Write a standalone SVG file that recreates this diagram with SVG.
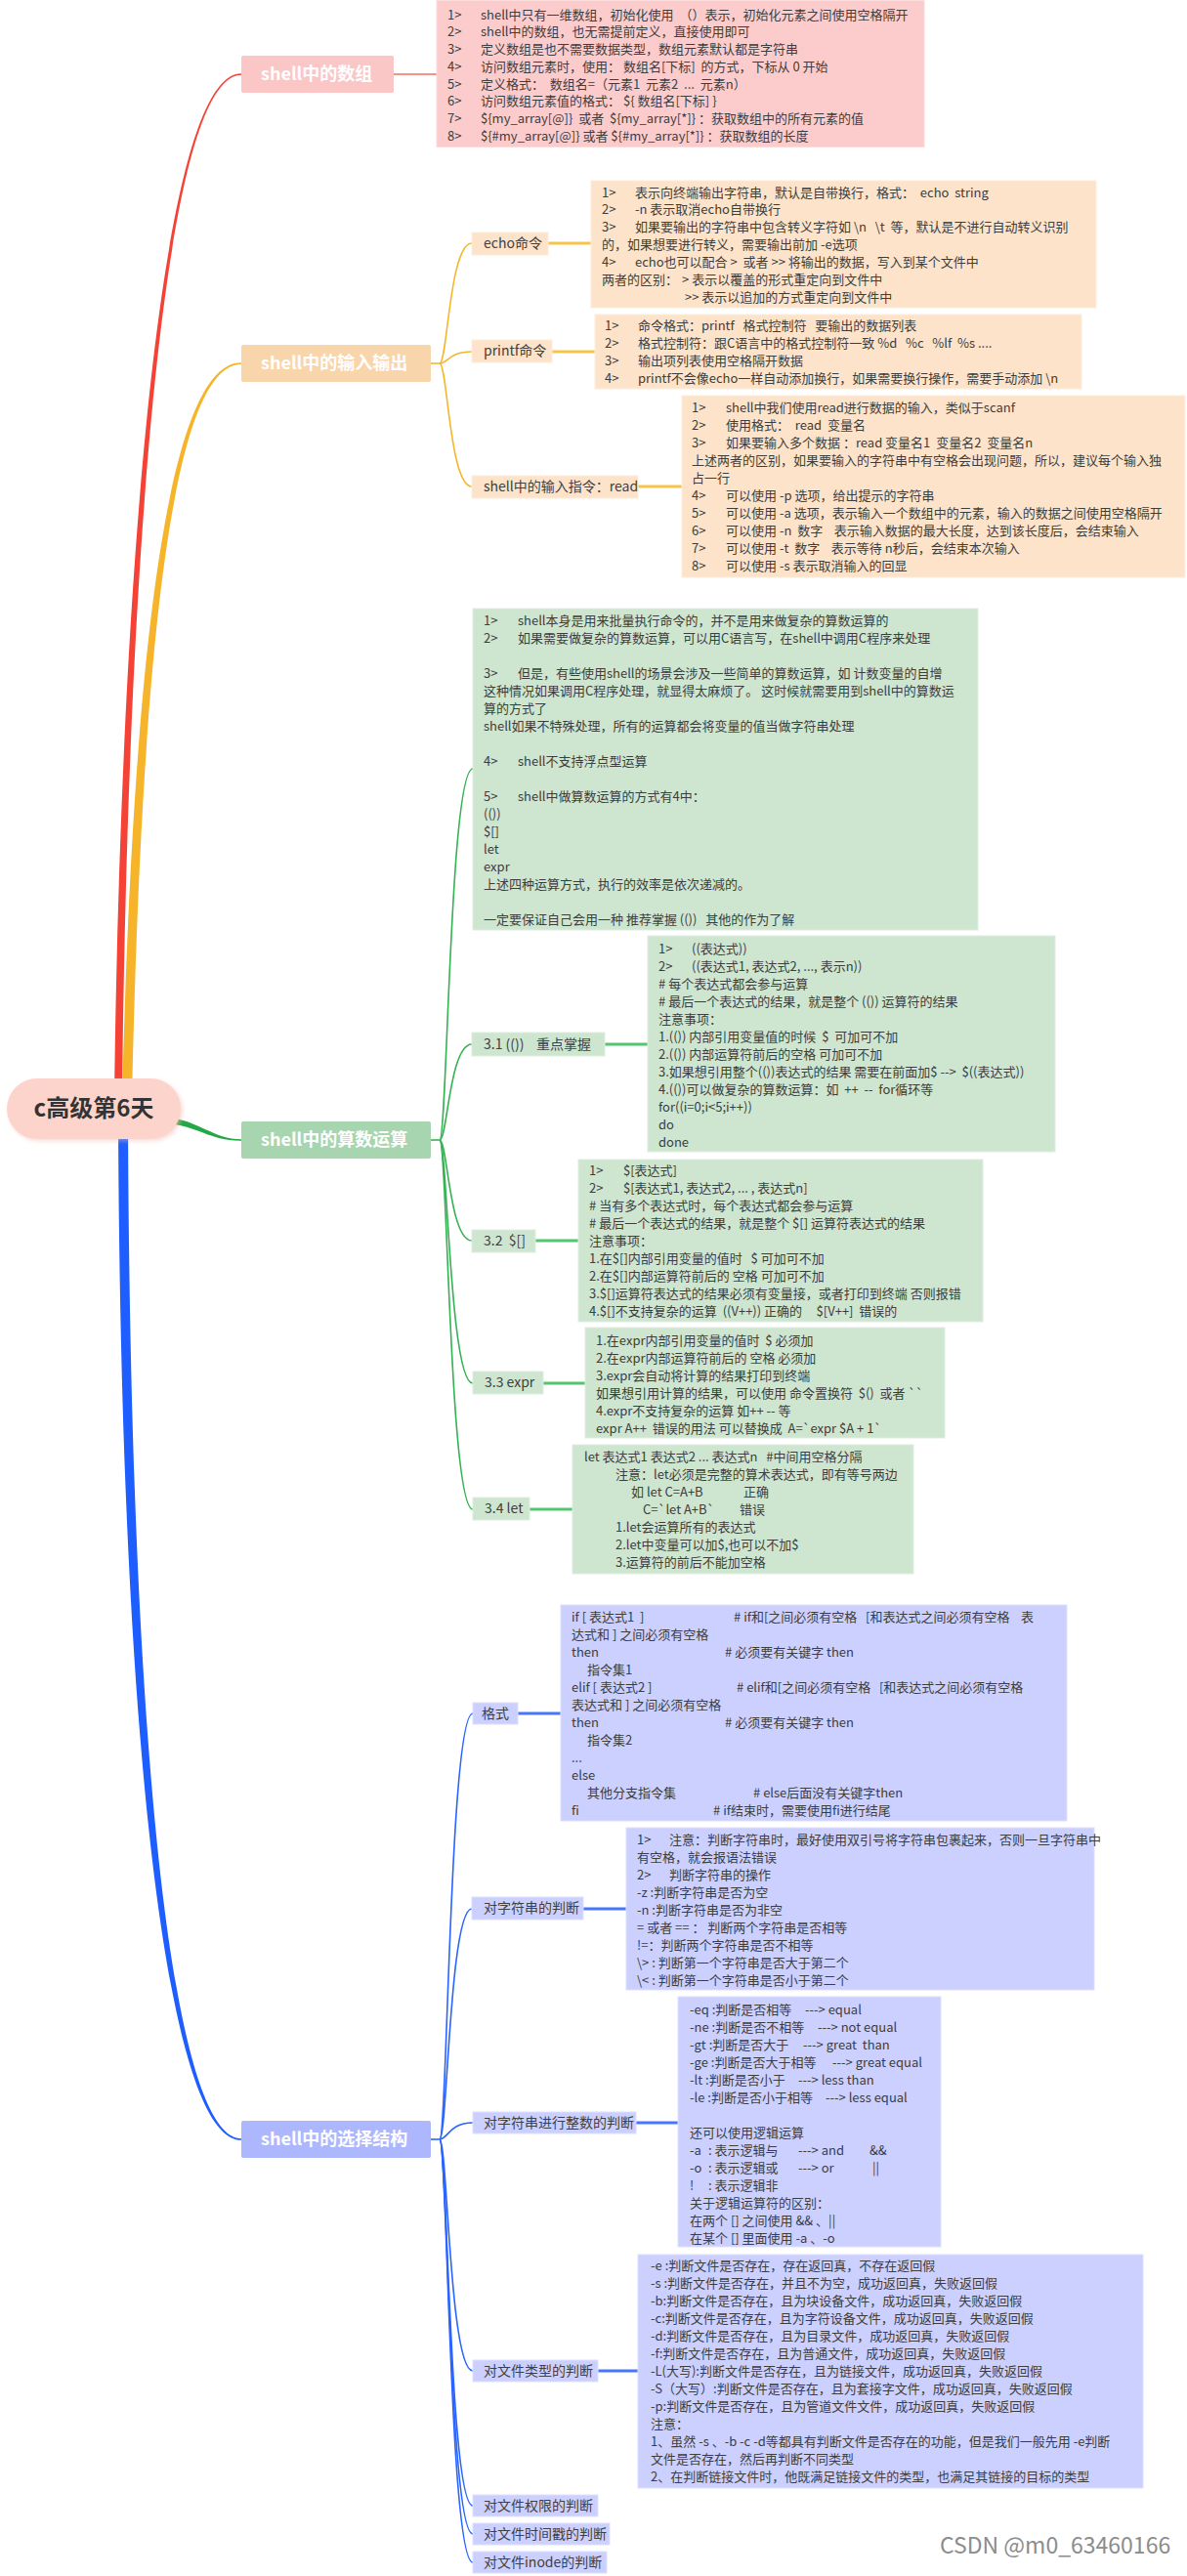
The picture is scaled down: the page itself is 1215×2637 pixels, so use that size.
<svg xmlns="http://www.w3.org/2000/svg" width="1215" height="2637" viewBox="0 0 1215 2637">
<style>
text{font-family:"Noto Sans CJK SC","Microsoft YaHei","Liberation Sans",sans-serif;white-space:pre}
.t{font-size:13px;fill:#3d3d3d}
.lb{font-size:14px;fill:#404040}
.mn{font-size:18px;font-weight:bold;fill:#ffffff}
.pk{fill:#FCCCCC;stroke:#FDDCDC;stroke-width:1}
.or{fill:#FCE3C9;stroke:#FDEDDC;stroke-width:1}
.gr{fill:#CEE5D0;stroke:#DDEEDF;stroke-width:1}
.bl{fill:#CBD0FE;stroke:#DDE0FF;stroke-width:1}
.fo{fill:none;stroke:#F5B62E;stroke-width:1.6}
.fg{fill:none;stroke:#35B254;stroke-width:1.6}
.fb{fill:none;stroke:#2B64FF;stroke-width:1.6}
.co{fill:none;stroke:#F8C448;stroke-width:3}
.cg{fill:none;stroke:#55C46E;stroke-width:3}
.cb{fill:none;stroke:#4676FF;stroke-width:3}
</style>
<defs>
<filter id="sh" x="-20%" y="-40%" width="140%" height="180%"><feGaussianBlur stdDeviation="2"/></filter>
</defs>
<rect width="1215" height="2637" fill="#ffffff"/>

<g id="connectors">
<path d="M 117 1125 C 122.5 650, 159 74.5, 247 75.2 L 247 76.8 C 161 77.5, 129.5 650, 125 1125 Z" fill="#F44336"/>
<path d="M 125 1125 C 135.5 700, 168 370.5, 247 371.2 L 247 372.8 C 172 373.5, 144.5 700, 135 1125 Z" fill="#F6B42B"/>
<path d="M 168 1143 C 205 1147, 218 1166.3, 247 1166.3 L 247 1167.7 C 214 1168, 203 1152, 168 1150 Z" fill="#22A844"/>
<path d="M 121 1140 C 123 1800, 173 2191.5, 247 2190.8 L 247 2189.2 C 177 2188.5, 133 1800, 131 1140 Z" fill="#1E5EFF"/>
<line x1="403" y1="76" x2="447" y2="76" stroke="#EE6E62" stroke-width="1.3"/>
<path class="fo" d="M 441 372 L 450 372"/>
<path class="fo" d="M 450 372 C 458 372, 460 249, 483 249"/>
<path class="fo" d="M 450 372 C 458 372, 460 360, 483 360"/>
<path class="fo" d="M 450 372 C 458 372, 460 498, 483 498"/>
<path class="co" d="M 561 249 L 605 249"/>
<path class="co" d="M 565 360 L 609 360"/>
<path class="co" d="M 653 498 L 698 498"/>
<path class="fg" d="M 441 1167 L 450 1167"/>
<path class="fg" d="M 450 1167 C 458 1167, 460 787, 484 787"/>
<path class="fg" d="M 450 1167 C 458 1167, 460 1069, 483 1069"/>
<path class="fg" d="M 450 1167 C 458 1167, 460 1270, 483 1270"/>
<path class="fg" d="M 450 1167 C 458 1167, 460 1416, 484 1416"/>
<path class="fg" d="M 450 1167 C 458 1167, 460 1545, 484 1545"/>
<path class="cg" d="M 619 1069 L 663 1069"/>
<path class="cg" d="M 548 1270 L 592 1270"/>
<path class="cg" d="M 556 1416 L 599 1416"/>
<path class="cg" d="M 542 1545 L 586 1545"/>
<path class="fb" d="M 441 2190 L 450 2190"/>
<path class="fb" d="M 450 2190 C 458 2190, 460 1754, 484 1754"/>
<path class="fb" d="M 450 2190 C 458 2190, 460 1954, 483 1954"/>
<path class="fb" d="M 450 2190 C 458 2190, 460 2173, 484 2173"/>
<path class="fb" d="M 450 2190 C 458 2190, 460 2427, 484 2427"/>
<path class="fb" d="M 450 2190 C 458 2190, 460 2565, 484 2565"/>
<path class="fb" d="M 450 2190 C 458 2190, 460 2594, 484 2594"/>
<path class="fb" d="M 450 2190 C 458 2190, 460 2623, 484 2623"/>
<path class="cb" d="M 530 1754 L 574 1754"/>
<path class="cb" d="M 597 1954 L 641 1954"/>
<path class="cb" d="M 651 2173 L 694 2173"/>
<path class="cb" d="M 612 2427 L 653 2427"/>
</g>

<g id="root">
<rect x="9" y="1106" width="178" height="62" rx="31" fill="#F4B8AE" opacity="0.5" filter="url(#sh)"/>
<rect x="7" y="1104" width="178" height="62" rx="31" fill="#FDD4CC"/>
<text x="96" y="1143" text-anchor="middle" style="font-size:24px;font-weight:bold;fill:#333333">c高级第6天</text>
</g>

<g id="n-array">
<rect x="247" y="57" width="156" height="38" rx="2" fill="#FAC6C6"/>
<text class="mn" x="267" y="82">shell中的数组</text>
</g>
<g id="n-array-box">
<rect class="pk" x="447" y="0.5" width="499" height="150"/>
<text class="t" x="458" y="19.5">1&gt;<tspan x="492">shell中只有一维数组，初始化使用  （）表示，初始化元素之间使用空格隔开</tspan></text>
<text class="t" x="458" y="37.3">2&gt;<tspan x="492">shell中的数组，也无需提前定义，直接使用即可</tspan></text>
<text class="t" x="458" y="55">3&gt;<tspan x="492">定义数组是也不需要数据类型，数组元素默认都是字符串</tspan></text>
<text class="t" x="458" y="72.8">4&gt;<tspan x="492">访问数组元素时，使用： 数组名[下标]  的方式，下标从 0 开始</tspan></text>
<text class="t" x="458" y="90.5">5&gt;<tspan x="492">定义格式：  数组名=（元素1  元素2  ...  元素n）</tspan></text>
<text class="t" x="458" y="108.3">6&gt;<tspan x="492">访问数组元素值的格式： ${ 数组名[下标] }</tspan></text>
<text class="t" x="458" y="126">7&gt;<tspan x="492">${my_array[@]}  或者  ${my_array[*]} ：获取数组中的所有元素的值</tspan></text>
<text class="t" x="458" y="143.8">8&gt;<tspan x="492">${#my_array[@]} 或者 ${#my_array[*]} ：获取数组的长度</tspan></text>
</g>

<g id="n-io">
<rect x="247" y="353" width="194" height="38" rx="2" fill="#F9D5AB"/>
<text class="mn" x="267" y="378">shell中的输入输出</text>
</g>
<g id="n-echo">
<rect class="or" x="483" y="238" width="78" height="23"/>
<text class="lb" x="495" y="254">echo命令</text>
</g>
<g id="n-echo-box">
<rect class="or" x="605" y="185" width="517" height="130"/>
<text class="t" x="616" y="201.5">1&gt;<tspan x="650">表示向终端输出字符串，默认是自带换行，格式：  echo  string</tspan></text>
<text class="t" x="616" y="219.4">2&gt;<tspan x="650">-n 表示取消echo自带换行</tspan></text>
<text class="t" x="616" y="237.3">3&gt;<tspan x="650">如果要输出的字符串中包含转义字符如 \n   \t  等，默认是不进行自动转义识别</tspan></text>
<text class="t" x="616" y="255.2">的，如果想要进行转义，需要输出前加 -e选项</text>
<text class="t" x="616" y="273.1">4&gt;<tspan x="650">echo也可以配合 &gt;  或者 &gt;&gt; 将输出的数据，写入到某个文件中</tspan></text>
<text class="t" x="616" y="291">两者的区别：<tspan x="698">&gt; 表示以覆盖的形式重定向到文件中</tspan></text>
<text class="t" x="701" y="308.9">&gt;&gt; 表示以追加的方式重定向到文件中</text>
</g>
<g id="n-printf">
<rect class="or" x="483" y="348" width="82" height="23"/>
<text class="lb" x="495" y="364">printf命令</text>
</g>
<g id="n-printf-box">
<rect class="or" x="609" y="322" width="498" height="76"/>
<text class="t" x="619" y="337.5">1&gt;<tspan x="653">命令格式：printf   格式控制符   要输出的数据列表</tspan></text>
<text class="t" x="619" y="355.5">2&gt;<tspan x="653">格式控制符：跟C语言中的格式控制符一致 %d   %c   %lf  %s ....</tspan></text>
<text class="t" x="619" y="373.5">3&gt;<tspan x="653">输出项列表使用空格隔开数据</tspan></text>
<text class="t" x="619" y="391.5">4&gt;<tspan x="653">printf不会像echo一样自动添加换行，如果需要换行操作，需要手动添加 \n</tspan></text>
</g>
<g id="n-read">
<rect class="or" x="483" y="487" width="170" height="23"/>
<text class="lb" x="495" y="503">shell中的输入指令：read</text>
</g>
<g id="n-read-box">
<rect class="or" x="698" y="405" width="515" height="186"/>
<text class="t" x="708" y="421.5">1&gt;<tspan x="743">shell中我们使用read进行数据的输入，类似于scanf</tspan></text>
<text class="t" x="708" y="439.5">2&gt;<tspan x="743">使用格式：  read  变量名</tspan></text>
<text class="t" x="708" y="457.5">3&gt;<tspan x="743">如果要输入多个数据 ：read 变量名1  变量名2  变量名n</tspan></text>
<text class="t" x="708" y="475.5">上述两者的区别，如果要输入的字符串中有空格会出现问题，所以，建议每个输入独</text>
<text class="t" x="708" y="493.5">占一行</text>
<text class="t" x="708" y="511.5">4&gt;<tspan x="743">可以使用 -p 选项，给出提示的字符串</tspan></text>
<text class="t" x="708" y="529.5">5&gt;<tspan x="743">可以使用 -a 选项，表示输入一个数组中的元素，输入的数据之间使用空格隔开</tspan></text>
<text class="t" x="708" y="547.5">6&gt;<tspan x="743">可以使用 -n  数字    表示输入数据的最大长度，达到该长度后，会结束输入</tspan></text>
<text class="t" x="708" y="565.5">7&gt;<tspan x="743">可以使用 -t  数字    表示等待 n秒后，会结束本次输入</tspan></text>
<text class="t" x="708" y="583.5">8&gt;<tspan x="743">可以使用 -s 表示取消输入的回显</tspan></text>
</g>

<g id="n-arith">
<rect x="247" y="1148" width="194" height="38" rx="2" fill="#A7D5AF"/>
<text class="mn" x="267" y="1173">shell中的算数运算</text>
</g>
<g id="n-arith-box">
<rect class="gr" x="484" y="623" width="517" height="329"/>
<text class="t" x="495" y="639.5">1&gt;<tspan x="530">shell本身是用来批量执行命令的，并不是用来做复杂的算数运算的</tspan></text>
<text class="t" x="495" y="657.5">2&gt;<tspan x="530">如果需要做复杂的算数运算，可以用C语言写，在shell中调用C程序来处理</tspan></text>
<text class="t" x="495" y="693.5">3&gt;<tspan x="530">但是，有些使用shell的场景会涉及一些简单的算数运算，如 计数变量的自增</tspan></text>
<text class="t" x="495" y="711.5">这种情况如果调用C程序处理，就显得太麻烦了。 这时候就需要用到shell中的算数运</text>
<text class="t" x="495" y="729.5">算的方式了</text>
<text class="t" x="495" y="747.5">shell如果不特殊处理，所有的运算都会将变量的值当做字符串处理</text>
<text class="t" x="495" y="783.5">4&gt;<tspan x="530">shell不支持浮点型运算</tspan></text>
<text class="t" x="495" y="819.5">5&gt;<tspan x="530">shell中做算数运算的方式有4中：</tspan></text>
<text class="t" x="495" y="837.5">(())</text>
<text class="t" x="495" y="855.5">$[]</text>
<text class="t" x="495" y="873.5">let</text>
<text class="t" x="495" y="891.5">expr</text>
<text class="t" x="495" y="909.5">上述四种运算方式，执行的效率是依次递减的。</text>
<text class="t" x="495" y="945.5">一定要保证自己会用一种 推荐掌握 (())   其他的作为了解</text>
</g>
<g id="n-31">
<rect class="gr" x="483" y="1057" width="136" height="24"/>
<text class="lb" x="495" y="1074">3.1 (())    重点掌握</text>
</g>
<g id="n-31-box">
<rect class="gr" x="663" y="958" width="417" height="221"/>
<text class="t" x="674" y="975.5">1&gt;<tspan x="708">((表达式))</tspan></text>
<text class="t" x="674" y="993.5">2&gt;<tspan x="708">((表达式1, 表达式2, ..., 表示n))</tspan></text>
<text class="t" x="674" y="1011.5"># 每个表达式都会参与运算</text>
<text class="t" x="674" y="1029.5"># 最后一个表达式的结果，就是整个 (()) 运算符的结果</text>
<text class="t" x="674" y="1047.5">注意事项：</text>
<text class="t" x="674" y="1065.5">1.(()) 内部引用变量值的时候  $  可加可不加</text>
<text class="t" x="674" y="1083.5">2.(()) 内部运算符前后的空格 可加可不加</text>
<text class="t" x="674" y="1101.5">3.如果想引用整个(())表达式的结果 需要在前面加$ --&gt;  $((表达式))</text>
<text class="t" x="674" y="1119.5">4.(())可以做复杂的算数运算：如  ++  --  for循环等</text>
<text class="t" x="674" y="1137.5">for((i=0;i&lt;5;i++))</text>
<text class="t" x="674" y="1155.5">do</text>
<text class="t" x="674" y="1173.5">done</text>
</g>
<g id="n-32">
<rect class="gr" x="483" y="1259" width="65" height="23"/>
<text class="lb" x="495" y="1275">3.2  $[]</text>
</g>
<g id="n-32-box">
<rect class="gr" x="592" y="1187" width="414" height="166"/>
<text class="t" x="603" y="1202.5">1&gt;<tspan x="638">$[表达式]</tspan></text>
<text class="t" x="603" y="1220.5">2&gt;<tspan x="638">$[表达式1, 表达式2, ... , 表达式n]</tspan></text>
<text class="t" x="603" y="1238.5"># 当有多个表达式时，每个表达式都会参与运算</text>
<text class="t" x="603" y="1256.5"># 最后一个表达式的结果，就是整个 $[] 运算符表达式的结果</text>
<text class="t" x="603" y="1274.5">注意事项：</text>
<text class="t" x="603" y="1292.5">1.在$[]内部引用变量的值时   $ 可加可不加</text>
<text class="t" x="603" y="1310.5">2.在$[]内部运算符前后的 空格 可加可不加</text>
<text class="t" x="603" y="1328.5">3.$[]运算符表达式的结果必须有变量接，或者打印到终端 否则报错</text>
<text class="t" x="603" y="1346.5">4.$[]不支持复杂的运算  ((V++)) 正确的     $[V++]  错误的</text>
</g>
<g id="n-33">
<rect class="gr" x="484" y="1404" width="72" height="23"/>
<text class="lb" x="496" y="1420">3.3 expr</text>
</g>
<g id="n-33-box">
<rect class="gr" x="599" y="1359" width="368" height="113"/>
<text class="t" x="610" y="1376.5">1.在expr内部引用变量的值时  $ 必须加</text>
<text class="t" x="610" y="1394.5">2.在expr内部运算符前后的 空格 必须加</text>
<text class="t" x="610" y="1412.5">3.expr会自动将计算的结果打印到终端</text>
<text class="t" x="610" y="1430.5">如果想引用计算的结果，可以使用 命令置换符  $()  或者 ``</text>
<text class="t" x="610" y="1448.5">4.expr不支持复杂的运算 如++ -- 等</text>
<text class="t" x="610" y="1466.5">expr A++  错误的用法 可以替换成  A=`expr $A + 1`</text>
</g>
<g id="n-34">
<rect class="gr" x="484" y="1533" width="58" height="23"/>
<text class="lb" x="496" y="1549">3.4 let</text>
</g>
<g id="n-34-box">
<rect class="gr" x="586" y="1479" width="349" height="132"/>
<text class="t" x="598" y="1495.5">let 表达式1 表达式2 ... 表达式n   #中间用空格分隔</text>
<text class="t" x="630" y="1513.5">注意：let必须是完整的算术表达式，即有等号两边</text>
<text class="t" x="646" y="1531.5">如 let C=A+B<tspan x="761">正确</tspan></text>
<text class="t" x="658" y="1549.5">C=`let A+B`<tspan x="757">错误</tspan></text>
<text class="t" x="630" y="1567.5">1.let会运算所有的表达式</text>
<text class="t" x="630" y="1585.5">2.let中变量可以加$,也可以不加$</text>
<text class="t" x="630" y="1603.5">3.运算符的前后不能加空格</text>
</g>

<g id="n-select">
<rect x="247" y="2171" width="194" height="38" rx="2" fill="#ADB7FD"/>
<text class="mn" x="267" y="2196">shell中的选择结构</text>
</g>
<g id="n-fmt">
<rect class="bl" x="484" y="1743" width="46" height="22"/>
<text class="lb" x="493" y="1759">格式</text>
</g>
<g id="n-fmt-box">
<rect class="bl" x="574" y="1643" width="518" height="221"/>
<text class="t" x="585" y="1659.5">if [ 表达式1  ]<tspan x="751"># if和[之间必须有空格   [和表达式之间必须有空格    表</tspan></text>
<text class="t" x="585" y="1677.5">达式和 ] 之间必须有空格</text>
<text class="t" x="585" y="1695.5">then<tspan x="742"># 必须要有关键字 then</tspan></text>
<text class="t" x="601" y="1713.5">指令集1</text>
<text class="t" x="585" y="1731.5">elif [ 表达式2 ]<tspan x="754"># elif和[之间必须有空格   [和表达式之间必须有空格</tspan></text>
<text class="t" x="585" y="1749.5">表达式和 ] 之间必须有空格</text>
<text class="t" x="585" y="1767.5">then<tspan x="742"># 必须要有关键字 then</tspan></text>
<text class="t" x="601" y="1785.5">指令集2</text>
<text class="t" x="585" y="1803.5">...</text>
<text class="t" x="585" y="1821.5">else</text>
<text class="t" x="601" y="1839.5">其他分支指令集<tspan x="771"># else后面没有关键字then</tspan></text>
<text class="t" x="585" y="1857.5">fi<tspan x="730"># if结束时，需要使用fi进行结尾</tspan></text>
</g>
<g id="n-str">
<rect class="bl" x="483" y="1942" width="114" height="23"/>
<text class="lb" x="495" y="1958">对字符串的判断</text>
</g>
<g id="n-str-box">
<rect class="bl" x="641" y="1871" width="479" height="166"/>
<text class="t" x="652" y="1887.5">1&gt;<tspan x="685">注意：判断字符串时，最好使用双引号将字符串包裹起来，否则一旦字符串中</tspan></text>
<text class="t" x="652" y="1905.5">有空格，就会报语法错误</text>
<text class="t" x="652" y="1923.5">2&gt;<tspan x="685">判断字符串的操作</tspan></text>
<text class="t" x="652" y="1941.5">-z :判断字符串是否为空</text>
<text class="t" x="652" y="1959.5">-n :判断字符串是否为非空</text>
<text class="t" x="652" y="1977.5">= 或者 == ： 判断两个字符串是否相等</text>
<text class="t" x="652" y="1995.5">!=：判断两个字符串是否不相等</text>
<text class="t" x="652" y="2013.5">\&gt; : 判断第一个字符串是否大于第二个</text>
<text class="t" x="652" y="2031.5">\&lt; : 判断第一个字符串是否小于第二个</text>
</g>
<g id="n-int">
<rect class="bl" x="484" y="2162" width="167" height="22"/>
<text class="lb" x="495" y="2178">对字符串进行整数的判断</text>
</g>
<g id="n-int-box">
<rect class="bl" x="694" y="2044" width="269" height="256"/>
<text class="t" x="706" y="2061.5">-eq :判断是否相等<tspan x="824">---&gt; equal</tspan></text>
<text class="t" x="706" y="2079.5">-ne :判断是否不相等<tspan x="837">---&gt; not equal</tspan></text>
<text class="t" x="706" y="2097.5">-gt :判断是否大于<tspan x="822">---&gt; great  than</tspan></text>
<text class="t" x="706" y="2115.5">-ge :判断是否大于相等<tspan x="852">---&gt; great equal</tspan></text>
<text class="t" x="706" y="2133.5">-lt :判断是否小于<tspan x="817">---&gt; less than</tspan></text>
<text class="t" x="706" y="2151.5">-le :判断是否小于相等<tspan x="845">---&gt; less equal</tspan></text>
<text class="t" x="706" y="2187.5">还可以使用逻辑运算</text>
<text class="t" x="706" y="2205.5">-a<tspan x="725">: 表示逻辑与</tspan><tspan x="817">---&gt; and</tspan><tspan x="890">&amp;&amp;</tspan></text>
<text class="t" x="706" y="2223.5">-o<tspan x="725">: 表示逻辑或</tspan><tspan x="817">---&gt; or</tspan><tspan x="893">||</tspan></text>
<text class="t" x="706" y="2241.5">!<tspan x="725">: 表示逻辑非</tspan></text>
<text class="t" x="706" y="2259.5">关于逻辑运算符的区别：</text>
<text class="t" x="706" y="2277.5">在两个 [] 之间使用 &amp;&amp; 、||</text>
<text class="t" x="706" y="2295.5">在某个 [] 里面使用 -a 、-o</text>
</g>
<g id="n-ftype">
<rect class="bl" x="484" y="2416" width="128" height="22"/>
<text class="lb" x="495" y="2432">对文件类型的判断</text>
</g>
<g id="n-ftype-box">
<rect class="bl" x="653" y="2308" width="517" height="239"/>
<text class="t" x="666" y="2323.5">-e :判断文件是否存在，存在返回真，不存在返回假</text>
<text class="t" x="666" y="2341.5">-s :判断文件是否存在，并且不为空，成功返回真，失败返回假</text>
<text class="t" x="666" y="2359.5">-b:判断文件是否存在，且为块设备文件，成功返回真，失败返回假</text>
<text class="t" x="666" y="2377.5">-c:判断文件是否存在，且为字符设备文件，成功返回真，失败返回假</text>
<text class="t" x="666" y="2395.5">-d:判断文件是否存在，且为目录文件，成功返回真，失败返回假</text>
<text class="t" x="666" y="2413.5">-f:判断文件是否存在，且为普通文件，成功返回真，失败返回假</text>
<text class="t" x="666" y="2431.5">-L(大写):判断文件是否存在，且为链接文件，成功返回真，失败返回假</text>
<text class="t" x="666" y="2449.5">-S（大写）:判断文件是否存在，且为套接字文件，成功返回真，失败返回假</text>
<text class="t" x="666" y="2467.5">-p:判断文件是否存在，且为管道文件文件，成功返回真，失败返回假</text>
<text class="t" x="666" y="2485.5">注意：</text>
<text class="t" x="666" y="2503.5">1、虽然 -s 、-b -c -d等都具有判断文件是否存在的功能，但是我们一般先用 -e判断</text>
<text class="t" x="666" y="2521.5">文件是否存在，然后再判断不同类型</text>
<text class="t" x="666" y="2539.5">2、在判断链接文件时，他既满足链接文件的类型，也满足其链接的目标的类型</text>
</g>
<g id="n-fperm">
<rect class="bl" x="484" y="2554" width="128" height="22"/>
<text class="lb" x="495" y="2570">对文件权限的判断</text>
</g>
<g id="n-ftime">
<rect class="bl" x="484" y="2583" width="140" height="22"/>
<text class="lb" x="495" y="2599">对文件时间戳的判断</text>
</g>
<g id="n-finode">
<rect class="bl" x="484" y="2612" width="137" height="22"/>
<text class="lb" x="495" y="2628">对文件inode的判断</text>
</g>

<text x="962" y="2614" style="font-size:23px;fill:#8c8c8c">CSDN @m0_63460166</text>
</svg>
